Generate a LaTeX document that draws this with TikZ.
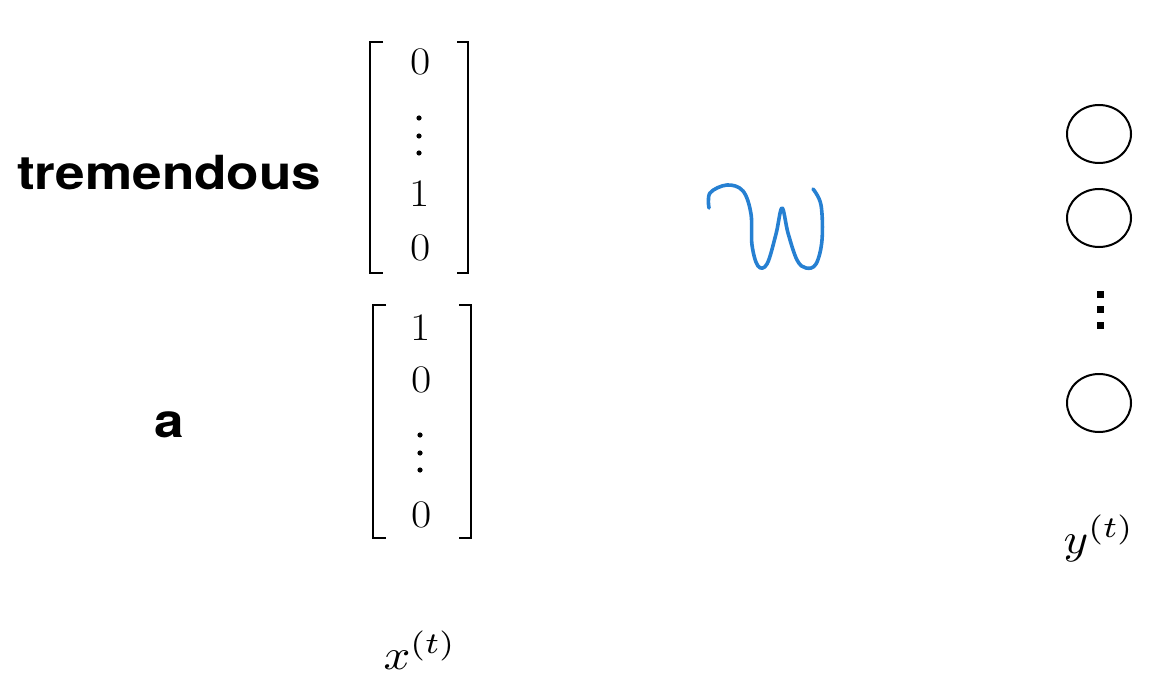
\documentclass[tikz,border=0pt]{standalone}
\usepackage{fontspec}
\newfontfamily\hv{TeX Gyre Heros}
\definecolor{penblue}{RGB}{38,128,210}
\tikzset{
  brk/.style={line width=2.4pt, line cap=butt},
  digit/.style={inner sep=0pt, font=\fontsize{39}{46}\selectfont},
  vdot/.style={fill=black, draw=none},
  word/.style={inner sep=0pt, font=\hv\bfseries\fontsize{47}{56}\selectfont},
  lbl/.style={inner sep=0pt},
}
\newcommand{\hx}[1]{\scalebox{1.13}[1]{#1}}
\newcommand{\mlab}[1]{\scalebox{4.7}[4.3]{#1}}
\begin{document}
\begin{tikzpicture}[x=1pt,y=-1pt]
\useasboundingbox (0,0) rectangle (1170,695);
% words
\node[word, anchor=base west] (w1) at (17,190) {\hx{tremendous}};
\node[word, anchor=base] (w2) at (169,437) {\hx{a}};
% matrix 1 brackets
\draw[brk] (383,42) -- (370,42) -- (370,273) -- (383,273);
\draw[brk] (457,42) -- (468,42) -- (468,273) -- (457,273);
\node[digit] (a1) at (421,62) {\hx{0}};
\fill[vdot] (419,118) circle (2.6) (419,136) circle (2.6) (419,153) circle (2.6);
\node[digit] (a3) at (420,194) {\hx{1}};
\node[digit] (a4) at (421,248) {\hx{0}};
% matrix 2 brackets
\draw[brk] (386,305) -- (373,305) -- (373,538) -- (386,538);
\draw[brk] (459,305) -- (471,305) -- (471,538) -- (459,538);
\node[digit] (b1) at (421,328) {\hx{1}};
\node[digit] (b2) at (422,380) {\hx{0}};
\fill[vdot] (420,435) circle (2.6) (420,453) circle (2.6) (420,470) circle (2.6);
\node[digit] (b4) at (422,515) {\hx{0}};
% labels
\node[lbl, anchor=base] (xt) at (420,669) {\mlab{$x^{(t)}$}};
\node[lbl, anchor=base] (yt) at (1099,553) {\mlab{$y^{(t)}$}};
% W handwritten
\draw[penblue, line width=3.6pt, line cap=round, line join=round]
  plot[smooth, tension=0.6] coordinates {(709,208) (710,193) (727,185) (743,191) (751,214) (752,245) (758,266) (767,264) (776,234) (782,208) (788,233) (797,260) (806,268) (816,264) (822,240) (821,205) (813,189)};
% output units
\draw[line width=2pt] (1099,134) ellipse (32 and 29);
\draw[line width=2pt] (1099,218) ellipse (32 and 29);
\draw[line width=2pt] (1099,403) ellipse (32 and 29);
\fill (1096.5,290.5) rectangle (1103.5,297.5);
\fill (1096.5,305.5) rectangle (1103.5,312.5);
\fill (1096.5,321.5) rectangle (1103.5,328.5);
\end{tikzpicture}
\end{document}
